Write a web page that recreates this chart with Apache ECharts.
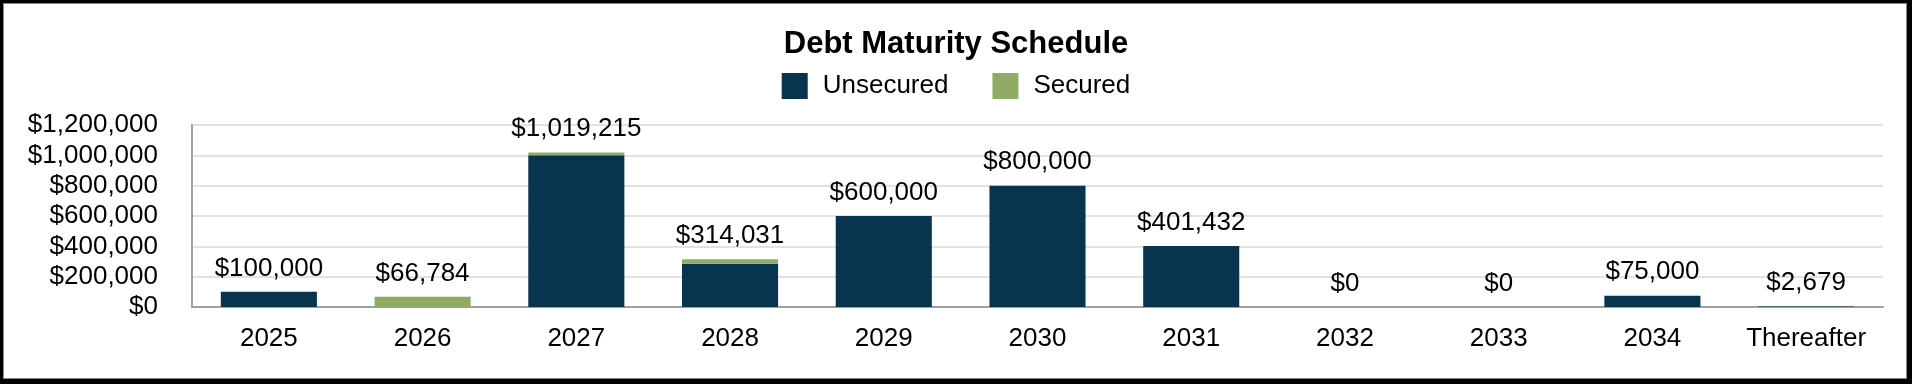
<!DOCTYPE html>
<html>
<head>
<meta charset="utf-8">
<script src="https://cdn.jsdelivr.net/npm/echarts@6/dist/echarts.min.js"></script>
<style>
  html, body { margin: 0; padding: 0; background: #fff; }
  #wrap { position: relative; width: 1912px; height: 384px; }
  #chart { position: absolute; left: 0; top: 0; width: 1912px; height: 384px; }
  #frame { position: absolute; left: 0; top: 0; width: 1912px; height: 384px; box-sizing: border-box;
           border-style: solid; border-color: #000; border-width: 3px 5px 5px 3px;
           box-shadow: inset 0 0 0 1px #888; pointer-events: none; }
</style>
</head>
<body>
<div id="wrap"><div id="chart"></div><div id="frame"></div></div>
<script>
const categories = ['2025', '2026', '2027', '2028', '2029', '2030', '2031', '2032', '2033', '2034', 'Thereafter'];
const unsecured = [100000, 0, 1000000, 285000, 600000, 800000, 401432, 0, 0, 75000, 2679];
const secured   = [0, 66784, 19215, 29031, 0, 0, 0, 0, 0, 0, 0];
const totals    = [100000, 66784, 1019215, 314031, 600000, 800000, 401432, 0, 0, 75000, 2679];
const yTicks = { min: 0, max: 1200000, interval: 200000 };

const FONT = "'Liberation Sans', Arial, sans-serif";
const money = v => '$' + Number(v).toLocaleString('en-US');

const chart = echarts.init(document.getElementById('chart'));
chart.setOption({
  animation: false,
  backgroundColor: '#fff',
  title: {
    text: 'Debt Maturity Schedule',
    left: 'center', top: 29, padding: 0,
    textStyle: { fontFamily: FONT, fontSize: 31, fontWeight: 'bold', color: '#000' }
  },
  legend: {
    data: ['Unsecured', 'Secured'],
    left: 'center', top: 73, padding: 0,
    icon: 'rect', itemWidth: 26, itemHeight: 26, itemGap: 44,
    textStyle: { fontFamily: FONT, fontSize: 26, color: '#000', padding: [0, 0, 0, 10] }
  },
  grid: { left: 192, right: 29, top: 125, bottom: 77, containLabel: false },
  xAxis: {
    type: 'category', data: categories,
    axisTick: { show: false },
    axisLine: { lineStyle: { color: '#a0a0a0', width: 2 } },
    axisLabel: { interval: 0, fontFamily: FONT, fontSize: 26, color: '#000', margin: 19 }
  },
  yAxis: {
    type: 'value', min: yTicks.min, max: yTicks.max, interval: yTicks.interval,
    axisLine: { show: true, lineStyle: { color: '#a0a0a0', width: 2 } },
    axisTick: { show: false },
    splitLine: { lineStyle: { color: '#e2e2e2', width: 2 } },
    axisLabel: { fontFamily: FONT, fontSize: 26, color: '#000', margin: 34, padding: [5, 0, 0, 0], formatter: money }
  },
  series: [
    { name: 'Unsecured', type: 'bar', stack: 'debt', data: unsecured, barCategoryGap: '37.5%',
      itemStyle: { color: '#08344f' } },
    { name: 'Secured', type: 'bar', stack: 'debt', data: secured,
      itemStyle: { color: '#8fab64' } },
    { name: 'Total', type: 'line', data: totals, symbol: 'circle', symbolSize: 1, showSymbol: true,
      itemStyle: { color: 'rgba(0,0,0,0)' },
      lineStyle: { opacity: 0 }, silent: true,
      label: { show: true, position: 'top', distance: 10, formatter: p => money(p.value),
               fontFamily: FONT, fontSize: 26, color: '#000' } }
  ]
});
</script>
</body>
</html>
